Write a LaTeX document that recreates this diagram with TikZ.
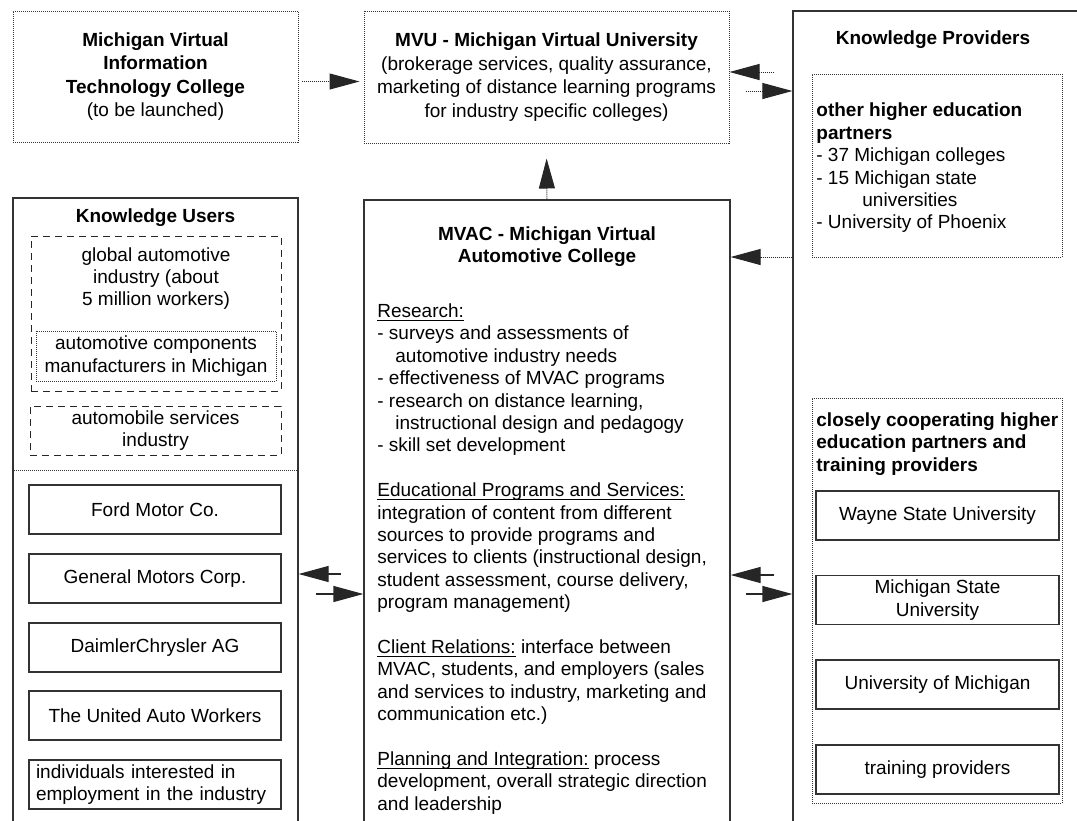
\documentclass[tikz,border=0pt]{standalone}
\usepackage{fontspec}
\setmainfont{Liberation Sans}
\usetikzlibrary{arrows.meta}
\newcommand{\headline}[1]{\underline{\smash{#1}}\vphantom{#1}}

\begin{document}
\begin{tikzpicture}[
  x=0.5pt, y=-0.5pt,
  font=\fontsize{9.5}{11.2}\selectfont,
  box/.style={draw=black!80, line width=0.6pt, inner sep=0pt, align=center},
  dotbox/.style={draw=black!80, line width=0.5pt, dash pattern=on 0.5pt off 0.5pt,
                 inner sep=0pt, align=center},
  dashbox/.style={draw=black!85, line width=0.5pt, dash pattern=on 3.5pt off 2.5pt,
                  inner sep=0pt, align=center},
  topbox/.style={dotbox, font=\fontsize{9.5}{11.8}\selectfont},
  member/.style={box, minimum width=126pt, minimum height=24.5pt},
  partner/.style={box, minimum width=121.5pt, minimum height=24.5pt},
  txt/.style={inner sep=0pt, align=left, anchor=west},
  msg/.style={-{Triangle[length=15pt,width=8pt]}, draw=black!85, line width=0.6pt},
  link/.style={-{Triangle[length=15pt,width=8pt]}, draw=black!85, line width=0.5pt,
               dash pattern=on 0.5pt off 0.5pt},
]
\useasboundingbox (0,0) rectangle (1077,820);
\clip (0,0) rectangle (1077,820);

% Top row: the college still to come and the university that brokers it.
\node[topbox, minimum width=142.5pt, minimum height=65.5pt] (mvitc) at (155.5,76.5)
  {\textbf{Michigan Virtual}\\\textbf{Information}\\\textbf{Technology College}\\(to be launched)};
\node[topbox, minimum width=182.5pt, minimum height=66pt] (mvu) at (546.5,77)
  {\textbf{MVU - Michigan Virtual University}\\(brokerage services, quality assurance,\\
   marketing of distance learning programs\\for industry specific colleges)};

% Knowledge providers, running off the page to the right and below.
\node[box, minimum width=146pt, minimum height=409.5pt] (kp) at (939,420.5) {};
\node (kptitle) at (933,40) {\textbf{Knowledge Providers}};
\node[dotbox, minimum width=125pt, minimum height=91.5pt] (others) at (937,165.5) {};
\node[txt] (otherstext) at (816,168)
  {\textbf{other higher education}\\\textbf{partners}\\- 37 Michigan colleges\\
   - 15 Michigan state\\\hspace*{23pt}universities\\- University of Phoenix};
\node[dotbox, minimum width=125pt, minimum height=202.5pt] (close) at (937,600.5) {};
\node[txt] (closetext) at (816,444)
  {\textbf{closely cooperating higher}\\\textbf{education partners and}\\\textbf{training providers}};
\node[partner] (wsu) at (937.5,515.5) {Wayne State University};
\node[partner] (msu) at (937.5,600) {Michigan State\\University};
\node[partner] (um) at (937.5,684.5) {University of Michigan};
\node[partner] (train) at (937.5,769.5) {training providers};

% Knowledge users: industry at large above the line, named clients below it.
\node[box, minimum width=142.5pt, minimum height=316pt] (ku) at (155.5,514) {};
\node (kutitle) at (155.5,218) {\textbf{Knowledge Users}};
\node[dashbox, minimum width=125pt, minimum height=77.5pt] (global) at (156,313.5) {};
\node[align=center, inner sep=0pt] (globaltext) at (156,278.5)
  {global automotive\\industry (about\\5 million workers)};
\node[dotbox, minimum width=120pt, minimum height=25pt] (parts) at (156,356)
  {automotive components\\manufacturers in Michigan};
\node[dashbox, minimum width=125.5pt, minimum height=24.5pt] (services) at (155.5,430.5)
  {automobile services\\industry};
\draw[draw=black!80, line width=0.5pt, dash pattern=on 0.5pt off 0.5pt]
  (ku.west |- 0,470) -- (ku.east |- 0,470);
\node[member] (ford) at (155,509.5) {Ford Motor Co.};
\node[member] (gm) at (155,578.5) {General Motors Corp.};
\node[member] (daimler) at (155,647.5) {DaimlerChrysler AG};
\node[member] (uaw) at (155,715.5) {The United Auto Workers};
\node[member, align=left, text width=119pt] (indiv) at (155,784.5)
  {individuals interested in\\employment in the industry};

% The automotive college in the middle.
\node[box, minimum width=183pt, minimum height=315pt] (mvac) at (547,515) {};
\node[align=center, inner sep=0pt] (mvactitle) at (547,246.5)
  {\textbf{MVAC - Michigan Virtual}\\\textbf{Automotive College}};
\node[txt] (mvactext) at (377,559)
  {\headline{Research:}\\
   - surveys and assessments of\\
   \hspace*{9pt}automotive industry needs\\
   - effectiveness of MVAC programs\\
   - research on distance learning,\\
   \hspace*{9pt}instructional design and pedagogy\\
   - skill set development\\[11.2pt]
   \headline{Educational Programs and Services:}\\
   integration of content from different\\
   sources to provide programs and\\
   services to clients (instructional design,\\
   student assessment, course delivery,\\
   program management)\\[11.2pt]
   \headline{Client Relations:} interface between\\
   MVAC, students, and employers (sales\\
   and services to industry, marketing and\\
   communication etc.)\\[11.2pt]
   \headline{Planning and Integration:} process\\
   development, overall strategic direction\\
   and leadership};

% Links between the blocks.
\draw[link, shorten <=1.5pt, shorten >=2pt] (mvitc.east |- 0,81.5) -- (mvu.west |- 0,81.5);
\draw[link, shorten <=9pt] (kp.west |- 0,72) -- (mvu.east |- 0,72);
\draw[link, shorten <=8pt] (mvu.east |- 0,91) -- (kp.west |- 0,91);
\draw[link, shorten >=7.5pt] (mvac.north) -- (mvu.south);
\draw[link] (kp.west |- 0,257) -- (mvac.east |- 0,257);
\draw[msg, shorten <=11pt] (mvac.west |- 0,574) -- (ku.east |- 0,574);
\draw[msg, shorten <=8.5pt] (ku.east |- 0,594) -- (mvac.west |- 0,594);
\draw[msg, shorten <=9pt] (kp.west |- 0,575) -- (mvac.east |- 0,575);
\draw[msg, shorten <=7.5pt] (mvac.east |- 0,594) -- (kp.west |- 0,594);
\end{tikzpicture}
\end{document}
